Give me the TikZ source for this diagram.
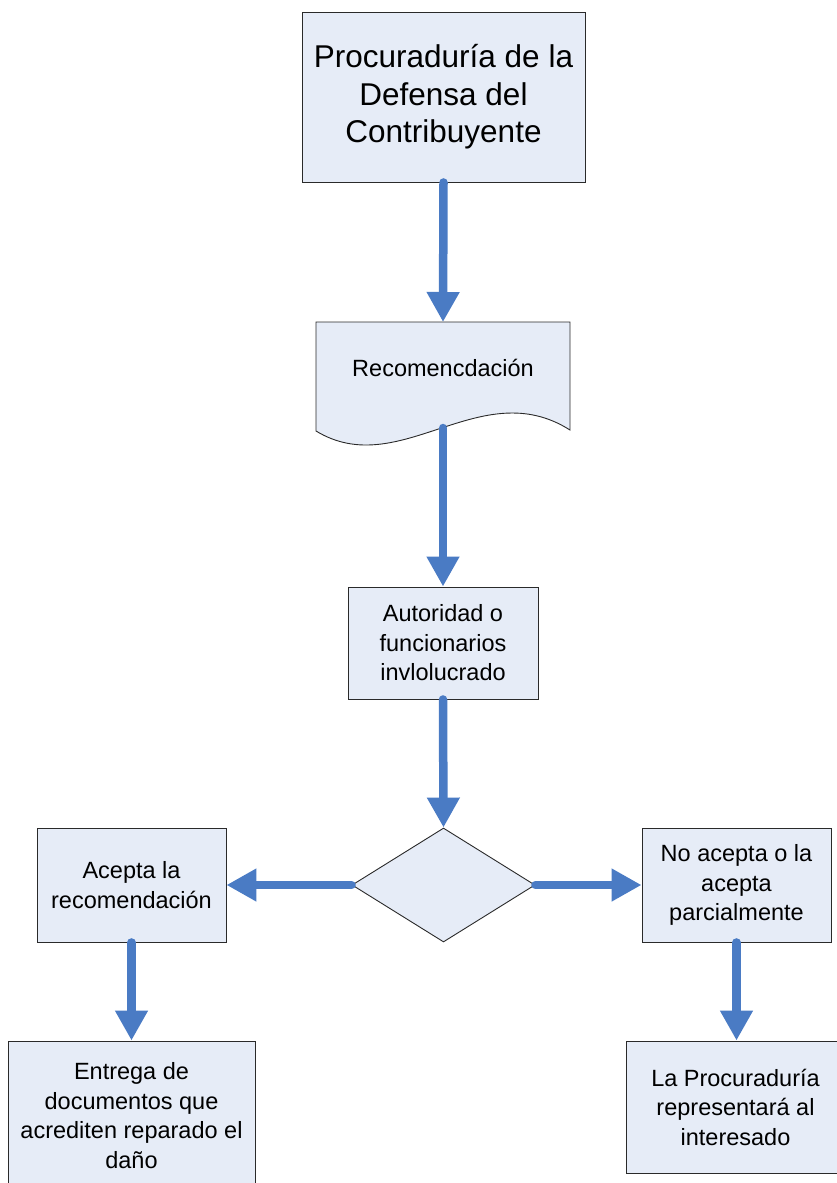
\documentclass[tikz,border=0pt]{standalone}
\usepackage{fontspec}
\setmainfont{Liberation Sans}
\usetikzlibrary{arrows.meta,shapes.geometric}
\definecolor{boxfill}{HTML}{E6ECF7}
\definecolor{flowblue}{HTML}{4A7BC4}
\definecolor{edge}{HTML}{2A2A2A}
\tikzset{
  procbox/.style={draw=edge, line width=0.9pt, fill=boxfill, rectangle,
    align=center, inner sep=0pt, font=\fontsize{23.5}{29.5}\selectfont},
  decision/.style={draw=edge, line width=0.9pt, fill=boxfill, diamond,
    inner sep=0pt},
  flow/.style={draw=flowblue, line width=8.5pt, line cap=round,
    -{Triangle[width=31pt,length=30pt]}, flowblue}
}
\begin{document}
\begin{tikzpicture}[x=1pt,y=-1pt]
\useasboundingbox (0,0) rectangle (837,1183);
\clip (0,0) rectangle (837,1183);

% top office
\node[procbox, minimum width=283pt, minimum height=170pt,
      font=\fontsize{31.5}{37.5}\selectfont] (top) at (443.5,97)
  {Procuraduría de la\\Defensa del\\Contribuyente};

% document shape with a wavy lower edge
\path[draw=edge, line width=0.9pt, fill=boxfill]
  (316,322) -- (570,322) -- (570,430)
  .. controls (480,373) and (400,482) .. (316,431) -- cycle;
\coordinate (recTop) at (443,322);
\coordinate (recBot) at (443,428);
\node[font=\fontsize{23.5}{29.5}\selectfont] (rec) at (443,368) {Recomencdación};

% authority
\node[procbox, minimum width=190pt, minimum height=112pt] (auth) at (443,643)
  {Autoridad o\\funcionarios\\invlolucrado};

% decision
\node[decision, minimum width=183pt, minimum height=114pt, aspect=1.6] (dec) at (443.5,885) {};

% outcomes
\node[procbox, minimum width=189pt, minimum height=114pt] (acc) at (131.5,885)
  {Acepta la\\recomendación};
\node[procbox, minimum width=189pt, minimum height=114pt] (rej) at (736.5,885)
  {No acepta o la\\acepta\\parcialmente};

\node[procbox, minimum width=247pt, minimum height=149pt] (docs) at (131.5,1115.5)
  {Entrega de\\documentos que\\acrediten reparado el\\daño};
\node[procbox, minimum width=219pt, minimum height=132pt] (rep) at (735.5,1107)
  {La Procuraduría\\representará al\\interesado};

% connectors
\draw[flow] (top.south) -- (recTop);
\draw[flow] (recBot) -- (auth.north);
\draw[flow] (auth.south) -- (dec.north);
\draw[flow] (dec.west) -- (acc.east);
\draw[flow] (dec.east) -- (rej.west);
\draw[flow] (acc.south) -- (docs.north -| acc.south);
\draw[flow] (rej.south) -- (rep.north -| rej.south);
\end{tikzpicture}
\end{document}
